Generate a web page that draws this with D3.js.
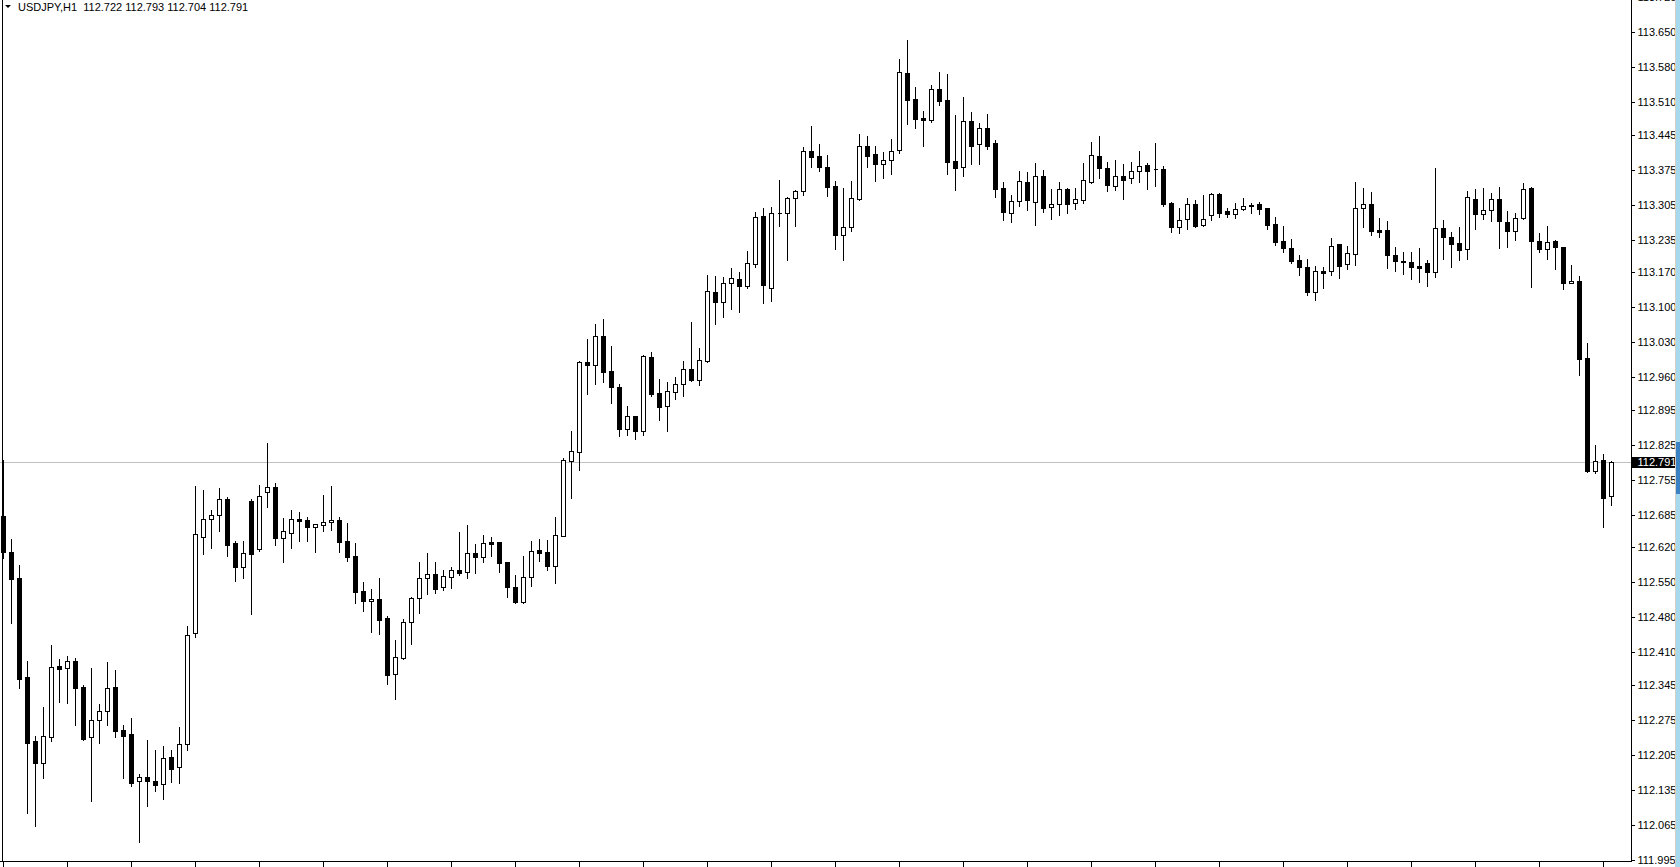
<!DOCTYPE html>
<html>
<head>
<meta charset="utf-8">
<script src="https://cdn.jsdelivr.net/npm/d3@7"></script>
<style>
  html, body { margin: 0; padding: 0; background: #fff; overflow: hidden; }
  svg { display: block; }
  text { font-family: "Liberation Sans Narrow", "Liberation Sans", Arial, sans-serif; }
</style>
</head>
<body>
<div id="chart"></div>
<script>
// chart header
var symbol = "USDJPY,H1";
var lastOHLC = ["112.722", "112.793", "112.704", "112.791"];
var bid = 112.791;

// hourly bars, oldest first
var opens = [
  112.682,112.610,112.558,112.360,112.232,112.188,112.240,112.382,112.378,112.392,
  112.340,112.240,112.274,112.292,112.340,112.254,112.246,112.152,112.160,112.152,
  112.146,112.200,112.180,112.226,112.448,112.640,112.676,112.684,112.716,112.628,
  112.580,112.712,112.616,112.730,112.740,112.638,112.648,112.676,112.674,112.660,
  112.664,112.670,112.674,112.632,112.602,112.532,112.512,112.516,112.478,112.366,
  112.398,112.470,112.518,112.558,112.566,112.540,112.560,112.574,112.570,112.608,
  112.600,112.630,112.630,112.590,112.540,112.510,112.560,112.614,112.610,112.582,
  112.642,112.792,112.810,112.990,112.984,113.042,112.972,112.940,112.856,112.882,
  112.852,113.000,112.928,112.902,112.930,112.946,112.976,112.954,112.992,113.130,
  113.110,113.148,113.156,113.142,113.186,113.282,113.138,113.288,113.288,113.318,
  113.332,113.412,113.402,113.380,113.342,113.244,113.260,113.316,113.422,113.406,
  113.386,113.394,113.414,113.568,113.516,113.478,113.474,113.536,113.514,113.392,
  113.380,113.472,113.426,113.458,113.428,113.338,113.288,113.312,113.350,113.310,
  113.362,113.300,113.306,113.336,113.308,113.314,113.350,113.402,113.378,113.342,
  113.362,113.358,113.372,113.384,113.376,113.376,113.308,113.260,113.276,113.306,
  113.264,113.284,113.326,113.292,113.286,113.296,113.304,113.306,113.298,113.266,
  113.232,113.218,113.194,113.180,113.130,113.172,113.172,113.226,113.186,113.206,
  113.298,113.306,113.254,113.254,113.204,113.192,113.190,113.182,113.188,113.170,
  113.258,113.240,113.228,113.216,113.316,113.286,113.294,113.316,113.270,113.252,
  113.278,113.338,113.232,113.216,113.232,113.220,113.148,113.152,112.998,112.772,
  112.794,112.722
];
var highs = [
  112.794,112.636,112.584,112.392,112.242,112.300,112.424,112.396,112.402,112.398,
  112.344,112.378,112.306,112.390,112.374,112.264,112.278,112.166,112.234,112.214,
  112.222,112.214,112.260,112.462,112.742,112.734,112.694,112.738,112.720,112.632,
  112.632,112.716,112.744,112.828,112.748,112.678,112.694,112.690,112.680,112.666,
  112.724,112.742,112.680,112.668,112.628,112.550,112.536,112.558,112.482,112.434,
  112.476,112.520,112.590,112.608,112.590,112.574,112.580,112.650,112.664,112.626,
  112.644,112.640,112.630,112.590,112.564,112.602,112.632,112.636,112.634,112.680,
  112.798,112.852,112.992,113.036,113.066,113.076,113.022,112.946,112.902,112.882,
  113.004,113.010,112.956,112.950,112.960,112.992,113.070,113.018,113.164,113.162,
  113.160,113.178,113.170,113.212,113.290,113.298,113.300,113.354,113.320,113.334,
  113.420,113.462,113.426,113.404,113.352,113.338,113.352,113.446,113.442,113.422,
  113.410,113.436,113.596,113.634,113.540,113.492,113.544,113.570,113.566,113.484,
  113.520,113.490,113.468,113.486,113.434,113.350,113.324,113.372,113.370,113.388,
  113.374,113.336,113.350,113.338,113.338,113.388,113.430,113.442,113.390,113.394,
  113.386,113.390,113.412,113.388,113.428,113.382,113.310,113.298,113.318,113.314,
  113.324,113.328,113.328,113.298,113.308,113.318,113.308,113.310,113.298,113.280,
  113.262,113.236,113.204,113.196,113.182,113.180,113.238,113.226,113.222,113.350,
  113.338,113.330,113.278,113.272,113.220,113.210,113.210,113.218,113.194,113.378,
  113.274,113.250,113.260,113.332,113.336,113.338,113.328,113.340,113.292,113.288,
  113.348,113.340,113.248,113.262,113.234,113.220,113.184,113.162,113.028,112.824,
  112.806,112.793
];
var lows = [
  112.598,112.468,112.338,112.088,112.062,112.158,112.232,112.310,112.308,112.264,
  112.234,112.112,112.228,112.264,112.240,112.158,112.142,112.030,112.102,112.132,
  112.116,112.150,112.148,112.214,112.440,112.606,112.618,112.652,112.602,112.552,
  112.558,112.486,112.612,112.700,112.624,112.590,112.618,112.632,112.632,112.610,
  112.652,112.654,112.610,112.592,112.508,112.492,112.450,112.446,112.346,112.316,
  112.396,112.426,112.488,112.526,112.528,112.534,112.538,112.564,112.558,112.568,
  112.590,112.602,112.570,112.520,112.508,112.508,112.542,112.592,112.574,112.548,
  112.642,112.718,112.774,112.926,112.946,112.950,112.908,112.842,112.844,112.836,
  112.844,112.922,112.874,112.852,112.916,112.922,112.952,112.944,112.990,113.066,
  113.080,113.096,113.090,113.138,113.180,113.108,113.112,113.262,113.194,113.262,
  113.324,113.380,113.372,113.322,113.216,113.194,113.252,113.314,113.380,113.352,
  113.358,113.366,113.408,113.466,113.458,113.422,113.470,113.504,113.366,113.334,
  113.362,113.386,113.386,113.416,113.320,113.274,113.270,113.302,113.294,113.264,
  113.290,113.276,113.284,113.288,113.296,113.308,113.348,113.358,113.332,113.334,
  113.316,113.348,113.350,113.336,113.342,113.302,113.250,113.248,113.256,113.260,
  113.262,113.274,113.280,113.280,113.278,113.294,113.288,113.286,113.256,113.224,
  113.210,113.188,113.164,113.124,113.114,113.138,113.164,113.158,113.176,113.184,
  113.260,113.244,113.240,113.178,113.172,113.166,113.156,113.150,113.142,113.160,
  113.196,113.180,113.194,113.196,113.256,113.276,113.272,113.218,113.220,113.234,
  113.276,113.140,113.210,113.196,113.176,113.136,113.148,112.964,112.770,112.768,
  112.660,112.704
];
var closes = [
  112.610,112.556,112.356,112.228,112.188,112.242,112.380,112.376,112.392,112.338,
  112.236,112.274,112.292,112.338,112.252,112.242,112.148,112.160,112.152,112.144,
  112.198,112.176,112.226,112.444,112.646,112.676,112.684,112.716,112.624,112.580,
  112.608,112.606,112.722,112.740,112.638,112.652,112.676,112.672,112.660,112.666,
  112.670,112.674,112.630,112.600,112.530,112.512,112.516,112.474,112.364,112.400,
  112.470,112.518,112.558,112.566,112.536,112.562,112.574,112.568,112.608,112.600,
  112.628,112.626,112.588,112.540,112.510,112.560,112.612,112.608,112.582,112.644,
  112.794,112.812,112.990,112.984,113.042,112.970,112.940,112.856,112.882,112.852,
  113.002,112.926,112.900,112.932,112.946,112.976,112.954,112.994,113.132,113.110,
  113.148,113.158,113.142,113.188,113.280,113.144,113.288,113.288,113.318,113.332,
  113.412,113.400,113.380,113.340,113.244,113.260,113.318,113.422,113.402,113.386,
  113.394,113.412,113.570,113.514,113.476,113.474,113.536,113.512,113.390,113.378,
  113.472,113.422,113.458,113.422,113.336,113.290,113.312,113.352,113.314,113.362,
  113.298,113.306,113.336,113.306,113.316,113.354,113.404,113.378,113.344,113.362,
  113.354,113.372,113.382,113.372,113.376,113.306,113.260,113.274,113.306,113.262,
  113.276,113.326,113.288,113.286,113.296,113.302,113.302,113.296,113.264,113.230,
  113.218,113.192,113.180,113.130,113.172,113.168,113.222,113.182,113.208,113.298,
  113.306,113.252,113.250,113.204,113.192,113.190,113.180,113.178,113.170,113.258,
  113.240,113.226,113.214,113.320,113.286,113.294,113.316,113.272,113.252,113.278,
  113.336,113.232,113.216,113.230,113.220,113.148,113.152,112.996,112.772,112.792,
  112.718,112.791
];

// price scale labels on the right
var priceTicks = [
  "113.720","113.650","113.580","113.510","113.445","113.375","113.305","113.235",
  "113.170","113.100","113.030","112.960","112.895","112.825","112.755","112.685",
  "112.620","112.550","112.480","112.410","112.345","112.275","112.205","112.135",
  "112.065","111.995"
];

var width = 1680, height = 867;
var plotRight = 1631.5, plotBottom = 861.5;
var n = opens.length;

var svg = d3.select("#chart").append("svg")
    .attr("width", width)
    .attr("height", height);

var x = d3.scaleLinear()
    .domain([0, n - 1])
    .range([3.5, 3.5 + 8 * (n - 1)]);

var y = d3.scaleLinear()
    .domain([111.995, 113.720])
    .range([860, -3]);

// bid line
var by = Math.round(y(bid)) + 0.5;
svg.append("line")
    .attr("x1", 0).attr("x2", plotRight)
    .attr("y1", by).attr("y2", by)
    .attr("stroke", "#c0c0c0")
    .attr("shape-rendering", "crispEdges");

// candles
var bars = d3.range(n).map(function (i) {
    return {i: i, o: opens[i], h: highs[i], l: lows[i], c: closes[i]};
});

var g = svg.append("g").attr("shape-rendering", "crispEdges");

g.selectAll("line.wick")
    .data(bars)
    .enter().append("line")
    .attr("class", "wick")
    .attr("x1", function (d) { return Math.floor(x(d.i)) + 0.5; })
    .attr("x2", function (d) { return Math.floor(x(d.i)) + 0.5; })
    .attr("y1", function (d) { return Math.round(y(d.h)); })
    .attr("y2", function (d) { return Math.round(y(d.l)) + 1; })
    .attr("stroke", "#000");

g.selectAll("path.body")
    .data(bars)
    .enter().append("path")
    .attr("class", "body")
    .attr("d", function (d) {
        var px = Math.floor(x(d.i));
        var t = Math.round(y(Math.max(d.o, d.c))) + 0.5;
        var b = Math.round(y(Math.min(d.o, d.c))) + 0.5;
        var x0 = px - 1.5, x1 = px + 2.5;
        return "M" + x0 + "," + t + "H" + x1 + "V" + b + "H" + x0 + "Z";
    })
    .attr("fill", function (d) { return d.c < d.o ? "#000" : "#fff"; })
    .attr("stroke", "#000");

// left edge and bottom axis line
svg.append("line")
    .attr("x1", 2.5).attr("x2", 2.5)
    .attr("y1", 0).attr("y2", plotBottom)
    .attr("stroke", "#000")
    .attr("shape-rendering", "crispEdges");

svg.append("line")
    .attr("x1", 0).attr("x2", plotRight + 0.5)
    .attr("y1", plotBottom).attr("y2", plotBottom)
    .attr("stroke", "#000")
    .attr("shape-rendering", "crispEdges");

// time ticks every 8 bars
var xAxis = svg.append("g")
    .attr("transform", "translate(0," + plotBottom + ")")
    .attr("shape-rendering", "crispEdges")
    .call(d3.axisBottom(x)
        .tickValues(d3.range(0, n, 8))
        .tickFormat("")
        .tickSize(6)
        .tickSizeOuter(0));
xAxis.select(".domain").remove();
xAxis.selectAll(".tick line")
    .attr("transform", "translate(-0.5,0)");

// price axis
svg.append("line")
    .attr("x1", plotRight).attr("x2", plotRight)
    .attr("y1", 0).attr("y2", plotBottom)
    .attr("stroke", "#000")
    .attr("shape-rendering", "crispEdges");

var yAxis = svg.append("g")
    .attr("transform", "translate(" + plotRight + ",0)")
    .call(d3.axisRight(y)
        .tickValues(priceTicks.map(Number))
        .tickFormat(function (d, i) { return priceTicks[i]; })
        .tickSize(3)
        .tickPadding(3)
        .tickSizeOuter(0));
yAxis.select(".domain").remove();
yAxis.selectAll(".tick line")
    .attr("shape-rendering", "crispEdges")
    .attr("stroke", "#000");
yAxis.selectAll(".tick text")
    .attr("fill", "#000")
    .style("font-size", "11px")
    .style("font-family", "'Liberation Sans Narrow','Liberation Sans',Arial,sans-serif");

// bid label
svg.append("rect")
    .attr("x", plotRight + 0.5)
    .attr("y", Math.round(y(bid)) - 5)
    .attr("width", 43)
    .attr("height", 11)
    .attr("fill", "#000");
svg.append("text")
    .attr("x", plotRight + 6)
    .attr("y", Math.round(y(bid)) + 4)
    .attr("fill", "#fff")
    .style("font-size", "11px")
    .text(bid.toFixed(3));

// right window edge
svg.append("rect")
    .attr("x", 1675).attr("y", 0)
    .attr("width", 1).attr("height", height)
    .attr("fill", "#d4d0c8");
svg.append("rect")
    .attr("x", 1676).attr("y", 0)
    .attr("width", 4).attr("height", height)
    .attr("fill", "#a6d8ee");
svg.append("rect")
    .attr("x", 1676).attr("y", 442)
    .attr("width", 4).attr("height", 52)
    .attr("fill", "#3b82c4");

// header
svg.append("path")
    .attr("d", "M5,5H11L8,8Z")
    .attr("fill", "#000");
svg.append("text")
    .attr("x", 18)
    .attr("y", 11)
    .style("font-size", "11px")
    .style("white-space", "pre")
    .attr("fill", "#000")
    .text(symbol + "  " + lastOHLC.join(" "));
</script>
</body>
</html>
